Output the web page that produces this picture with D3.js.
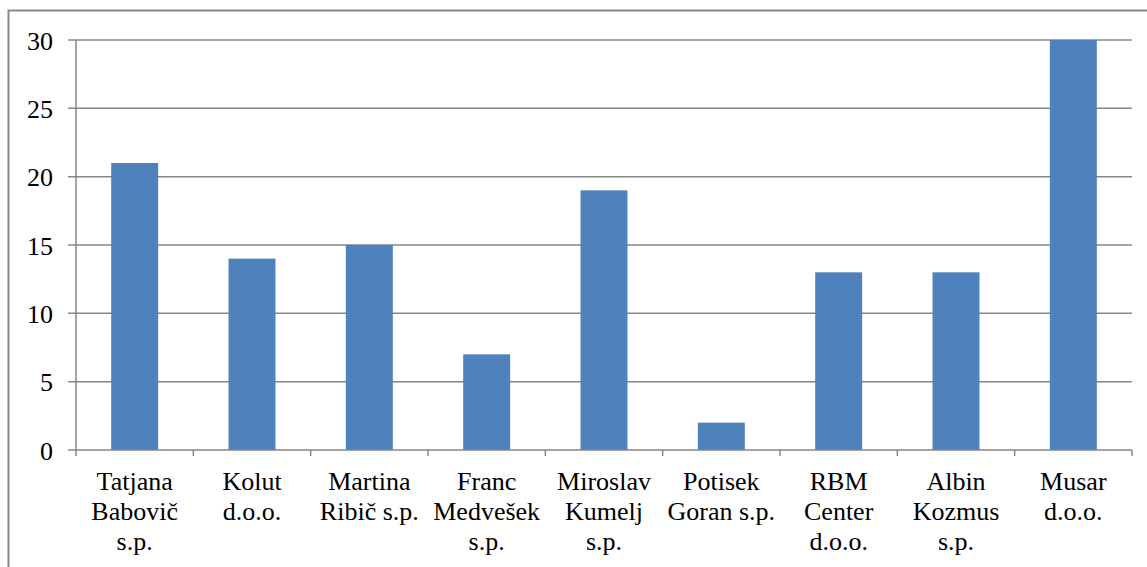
<!DOCTYPE html>
<html>
<head>
<meta charset="utf-8">
<script src="https://cdn.jsdelivr.net/npm/d3@7"></script>
<style>
  html, body { margin: 0; padding: 0; background: #fff; overflow: hidden; }
  svg { display: block; }
  svg text, svg tspan { font-family: "Liberation Serif", "Times New Roman", serif !important; }
</style>
</head>
<body>
<svg id="chart" width="1147" height="567"></svg>
<script>
const categories = [
  ["Tatjana", "Babovič", "s.p."],
  ["Kolut", "d.o.o."],
  ["Martina", "Ribič s.p."],
  ["Franc", "Medvešek", "s.p."],
  ["Miroslav", "Kumelj", "s.p."],
  ["Potisek", "Goran s.p."],
  ["RBM", "Center", "d.o.o."],
  ["Albin", "Kozmus", "s.p."],
  ["Musar", "d.o.o."]
];
const values = [21, 14, 15, 7, 19, 2, 13, 13, 30];
const yTicks = [0, 5, 10, 15, 20, 25, 30];

const FONT = '"Liberation Serif", "Times New Roman", serif';
const svg = d3.select("#chart");
const pLeft = 76, pRight = 1132, pTop = 40, pBottom = 450;
const gridColor = "#878787";

// outer chart border (cropped at right/bottom)
svg.append("rect")
  .attr("x", 8.5).attr("y", 10.5)
  .attr("width", 1200).attr("height", 700)
  .attr("fill", "none").attr("stroke", "#878787").attr("stroke-width", 2);

const idx = categories.map((d, i) => i);
const x = d3.scaleBand().domain(idx).range([pLeft, pRight]).paddingInner(0.6).paddingOuter(0.3);
const xb = d3.scaleBand().domain(idx).range([pLeft, pRight]).padding(0);
const y = d3.scaleLinear().domain([0, 30]).range([pBottom, pTop]);

// gridlines
svg.append("g").selectAll("line").data(yTicks.filter(t => t > 0)).join("line")
  .attr("x1", pLeft - 8).attr("x2", pRight)
  .attr("y1", d => y(d)).attr("y2", d => y(d))
  .attr("stroke", gridColor).attr("stroke-width", 1.5);

// bars
svg.append("g").selectAll("rect").data(values).join("rect")
  .attr("x", (d, i) => x(i))
  .attr("width", x.bandwidth())
  .attr("y", d => y(d))
  .attr("height", d => y(0) - y(d))
  .attr("fill", "#4F81BD");

// y axis line
svg.append("line").attr("x1", pLeft).attr("x2", pLeft).attr("y1", pTop).attr("y2", pBottom)
  .attr("stroke", gridColor).attr("stroke-width", 1.5);
// x axis line (with tick to left)
svg.append("line").attr("x1", pLeft - 8).attr("x2", pRight).attr("y1", pBottom).attr("y2", pBottom)
  .attr("stroke", gridColor).attr("stroke-width", 1.5);

// category ticks at boundaries
const bounds = idx.map(i => xb(i)).concat([pRight]);
svg.append("g").selectAll("line").data(bounds).join("line")
  .attr("x1", d => d).attr("x2", d => d)
  .attr("y1", pBottom).attr("y2", pBottom + 6)
  .attr("stroke", gridColor).attr("stroke-width", 1.5);

// y tick labels
yTicks.forEach(t => {
  svg.append("text")
    .attr("x", 53).attr("y", y(t) + 9.5)
    .attr("text-anchor", "end")
    .attr("font-size", 26)
    .attr("fill", "#000")
    .style("font-family", FONT, "important")
    .text(t);
});

// x labels
categories.forEach((lines, i) => {
  lines.forEach((s, j) => {
    svg.append("text")
      .attr("x", xb(i) + xb.bandwidth() / 2)
      .attr("y", pBottom + 40 + j * 30)
      .attr("text-anchor", "middle")
      .attr("font-size", 26)
      .attr("fill", "#000")
      .style("font-family", FONT, "important")
      .text(s);
  });
});
</script>
</body>
</html>
